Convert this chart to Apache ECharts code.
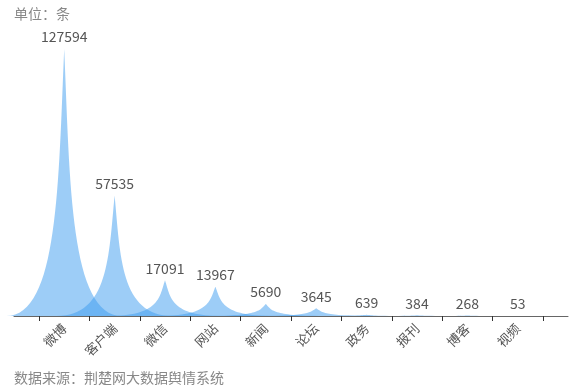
<!DOCTYPE html>
<html>
<head>
<meta charset="utf-8">
<script src="https://cdn.jsdelivr.net/npm/echarts@6/dist/echarts.min.js"></script>
<style>html,body{margin:0;padding:0;background:#fff}#c{width:579px;height:390px}</style>
</head>
<body>
<div id="c"></div>
<script>
const categories = ['微博','客户端','微信','网站','新闻','论坛','政务','报刊','博客','视频'];
const values = [127594, 57535, 17091, 13967, 5690, 3645, 639, 384, 268, 53];
const yMax = 140000;

const FONT = '"Noto Sans CJK SC", "Noto Sans", sans-serif';
const chart = echarts.init(document.getElementById('c'));
chart.setOption({
  animation: false,
  textStyle: { fontFamily: FONT },
  title: [
    { text: '单位：条', left: 9, top: 2, textStyle: { fontSize: 14, fontWeight: 'normal', color: '#888', fontFamily: FONT } },
    { text: '数据来源：荆楚网大数据舆情系统', left: 9, bottom: 0, textStyle: { fontSize: 14, fontWeight: 'normal', color: '#888', fontFamily: FONT } }
  ],
  grid: [
    { left: 14, right: 11, top: 23, bottom: 74 },
    { left: 39, right: 36, top: 23, bottom: 74 }
  ],
  xAxis: [
    { gridIndex: 0, type: 'category', data: [''], axisTick: { show: false }, axisLabel: { show: false },
      axisLine: { lineStyle: { color: '#666', width: 1 } } },
    { gridIndex: 1, type: 'category', data: categories,
      axisLine: { show: false },
      axisTick: { show: true, length: 5, lineStyle: { color: '#333' } },
      axisLabel: { rotate: 45, color: '#555', fontSize: 13, margin: 10, fontFamily: FONT, interval: 0 } }
  ],
  yAxis: [
    { gridIndex: 0, show: false, min: 0, max: yMax },
    { gridIndex: 1, show: false, min: 0, max: yMax }
  ],
  series: [{
    type: 'pictorialBar',
    xAxisIndex: 1, yAxisIndex: 1,
    barCategoryGap: '-130%',
    symbol: 'path://M0,10 L10,10 C5.5,10 5.5,5 5,0 C4.5,5 4.5,10 0,10 z',
    itemStyle: { color: 'rgba(60,155,240,0.5)' },
    label: { show: true, position: 'top', distance: 5, color: '#555', fontSize: 14, fontFamily: FONT },
    data: values,
    z: 10
  }]
});
</script>
</body>
</html>
